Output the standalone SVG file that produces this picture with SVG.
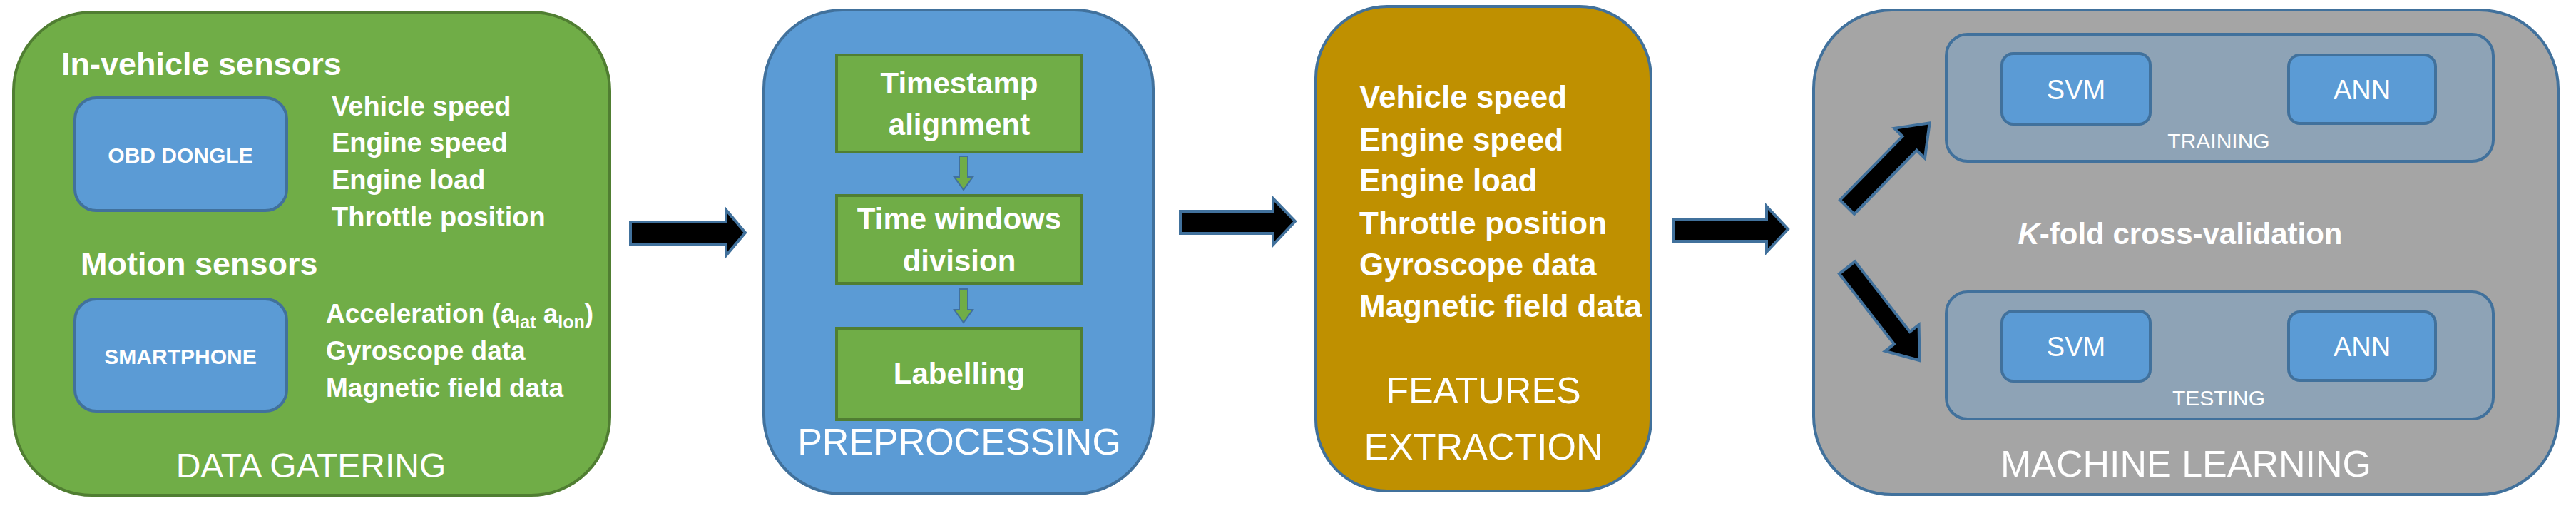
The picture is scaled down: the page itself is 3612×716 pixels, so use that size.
<svg xmlns="http://www.w3.org/2000/svg" width="3612" height="716" viewBox="0 0 3612 716">
<style>
text{font-family:"Liberation Sans Narrow","Liberation Sans",Arial,sans-serif;fill:#fff}
.b{font-weight:bold}
.c{text-anchor:middle}
.big{font-size:52px}
.sub{fill:#5B9BD5;stroke:#41719C;stroke-width:4}
.arr{fill:#000;stroke:#41719C;stroke-width:4}
.step{fill:#70AD47;stroke:#507E32;stroke-width:4}
</style>
<rect width="3612" height="716" fill="#fff"/>
<g id="data-gathering">
<rect x="19" y="17" width="836" height="677" rx="110" fill="#70AD47" stroke="#507E32" stroke-width="4"/>
<text x="86" y="105" class="b" font-size="45">In-vehicle sensors</text>
<rect x="105" y="137" width="297" height="158" rx="30" class="sub"/>
<text x="253" y="228" class="b c" font-size="30">OBD DONGLE</text>
<g class="b" font-size="38">
<text x="465" y="162">Vehicle speed</text>
<text x="465" y="213">Engine speed</text>
<text x="465" y="265">Engine load</text>
<text x="465" y="317">Throttle position</text>
</g>
<text x="113" y="385" class="b" font-size="45">Motion sensors</text>
<rect x="105" y="419" width="297" height="157" rx="30" class="sub"/>
<text x="253" y="510" class="b c" font-size="30">SMARTPHONE</text>
<g class="b" font-size="37">
<text x="457" y="452">Acceleration (a<tspan font-size="25" dy="8">lat</tspan><tspan dy="-8"> a</tspan><tspan font-size="25" dy="8">lon</tspan><tspan dy="-8">)</tspan></text>
<text x="457" y="504">Gyroscope data</text>
<text x="457" y="556">Magnetic field data</text>
</g>
<text x="436" y="669" class="c" font-size="48">DATA GATERING</text>
</g>
<g id="preprocessing">
<rect x="1071" y="14" width="546" height="678" rx="110" fill="#5B9BD5" stroke="#41719C" stroke-width="4"/>
<rect x="1173" y="77" width="343" height="136" class="step"/>
<rect x="1173" y="274" width="343" height="123" class="step"/>
<rect x="1173" y="460" width="343" height="128" class="step"/>
<polygon points="1345,219 1357,219 1357,248 1364,248 1351,266 1338,248 1345,248" fill="#70AD47" stroke="#41719C" stroke-width="2"/>
<polygon points="1345,405 1357,405 1357,434 1364,434 1351,452 1338,434 1345,434" fill="#70AD47" stroke="#41719C" stroke-width="2"/>
<g class="b c" font-size="42">
<text x="1345" y="131">Timestamp</text>
<text x="1345" y="189">alignment</text>
<text x="1345" y="321">Time windows</text>
<text x="1345" y="380">division</text>
<text x="1345" y="538">Labelling</text>
</g>
<text x="1345" y="637" class="c big">PREPROCESSING</text>
</g>
<g id="features-extraction">
<rect x="1845" y="9" width="470" height="679" rx="100" fill="#BF9000" stroke="#41719C" stroke-width="4"/>
<g class="b" font-size="44">
<text x="1906" y="151">Vehicle speed</text>
<text x="1906" y="211">Engine speed</text>
<text x="1906" y="268">Engine load</text>
<text x="1906" y="328">Throttle position</text>
<text x="1906" y="386">Gyroscope data</text>
<text x="1906" y="444">Magnetic field data</text>
</g>
<text x="2080" y="565" class="c big">FEATURES</text>
<text x="2080" y="644" class="c big">EXTRACTION</text>
</g>
<g id="machine-learning">
<rect x="2543" y="14" width="1044" height="679" rx="110" fill="#A5A5A5" stroke="#41719C" stroke-width="4"/>
<rect x="2729" y="48" width="767" height="178" rx="30" fill="#8EA3B6" stroke="#41719C" stroke-width="4"/>
<rect x="2807" y="75" width="208" height="99" rx="16" class="sub"/>
<rect x="3209" y="77" width="206" height="96" rx="16" class="sub"/>
<text x="2911" y="139" class="c" font-size="38">SVM</text>
<text x="3312" y="139" class="c" font-size="38">ANN</text>
<text x="3111" y="208" class="c" font-size="30">TRAINING</text>
<text x="3057" y="342" class="b c" font-size="42"><tspan font-style="italic">K</tspan>-fold cross-validation</text>
<rect x="2729" y="409" width="767" height="178" rx="30" fill="#8EA3B6" stroke="#41719C" stroke-width="4"/>
<rect x="2807" y="436" width="208" height="98" rx="16" class="sub"/>
<rect x="3209" y="437" width="206" height="96" rx="16" class="sub"/>
<text x="2911" y="499" class="c" font-size="38">SVM</text>
<text x="3312" y="499" class="c" font-size="38">ANN</text>
<text x="3111" y="568" class="c" font-size="30">TESTING</text>
<text x="3065" y="668" class="c big">MACHINE LEARNING</text>
</g>
<g id="connectors">
<polygon class="arr" points="884,311 1018,311 1018,294 1045,326 1018,358 1018,342 884,342"/>
<polygon class="arr" points="1655,296 1785,296 1785,278 1816,310 1785,343 1785,327 1655,327"/>
<polygon class="arr" points="2346,307 2477,307 2477,289 2507,321 2477,353 2477,338 2346,338"/>
<polygon class="arr" transform="translate(2590,290) rotate(-45.5)" points="0,-14 125,-14 125,-30 165,0 125,30 125,14 0,14"/>
<polygon class="arr" transform="translate(2590,375) rotate(52)" points="0,-14 125,-14 125,-30 165,0 125,30 125,14 0,14"/>
</g>
</svg>
